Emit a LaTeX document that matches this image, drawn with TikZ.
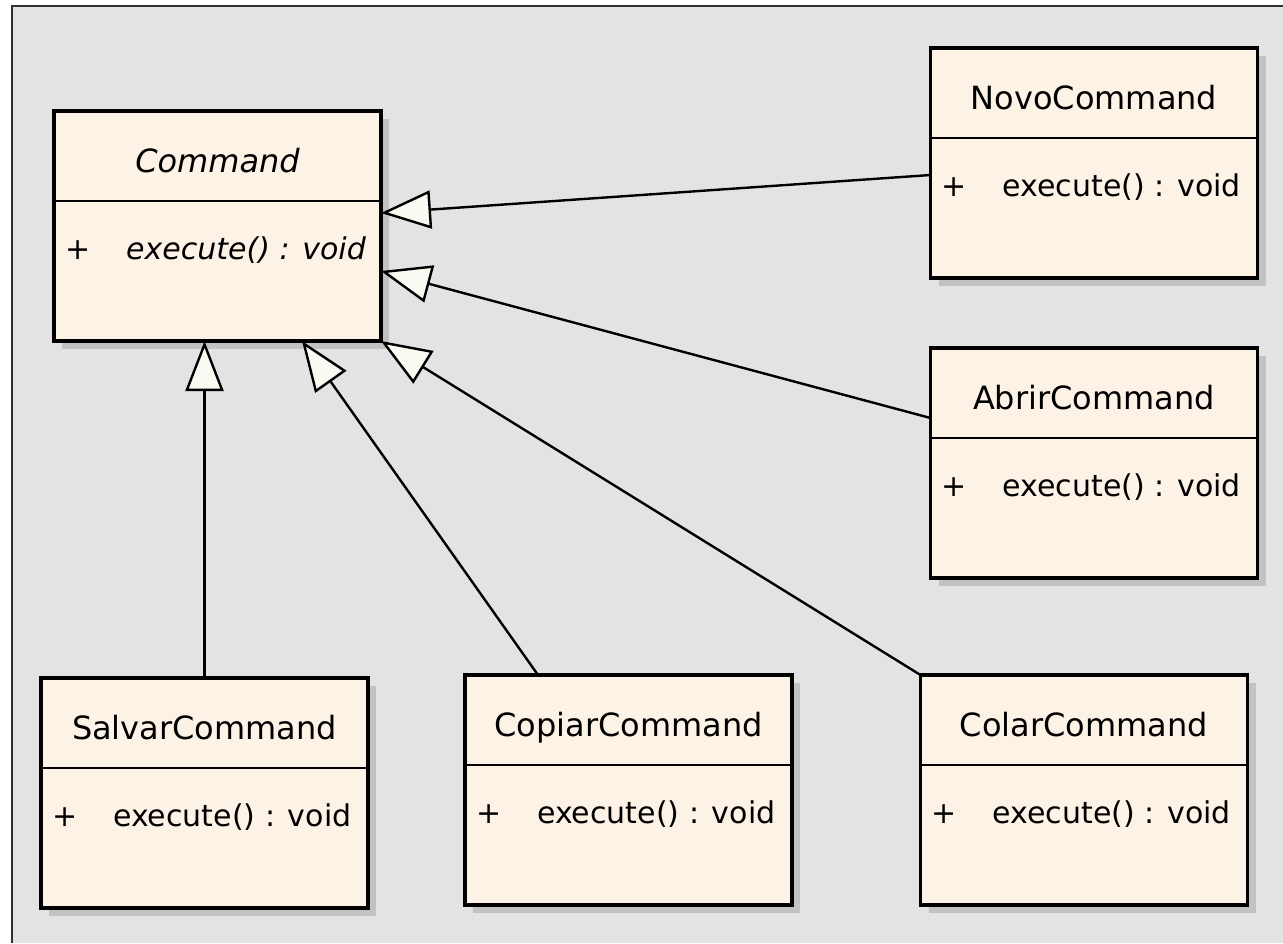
\documentclass[tikz,border=0pt]{standalone}
\usepackage{fontspec}
\setmainfont{DejaVu Sans}
\usetikzlibrary{arrows.meta,calc,shadows}
\definecolor{panel}{HTML}{E3E3E3}
\definecolor{classfill}{HTML}{FCF3E6}
\definecolor{tipfill}{HTML}{FAFAF2}
\definecolor{framecol}{HTML}{303030}
\tikzset{
  umlbox/.style={draw=black, line width=3.5pt, fill=classfill,
    minimum width=327pt, minimum height=230pt, inner sep=0pt, outer sep=0pt,
    drop shadow={shadow xshift=8pt, shadow yshift=-8pt, fill=black!24, opacity=1}},
  umltitle/.style={anchor=base, inner sep=0pt, font=\fontsize{32}{38}\selectfont},
  umlmember/.style={anchor=base west, inner sep=0pt, font=\fontsize{30}{36}\selectfont},
  umlvis/.style={anchor=base, inner sep=0pt, font=\fontsize{30}{36}\selectfont},
  umldiv/.style={line width=2.5pt},
  realizes/.style={line width=2.4pt, -{Triangle[length=50pt, width=38pt, fill=tipfill]}}
}
% #1 node name, #2 centre, #3 class name, #4 extra font switch (italic for abstract)
\newcommand\umlclass[4]{%
  \node[umlbox] (#1) at (#2) {};
  \draw[umldiv] ($(#1.north west)+(0,90)$) -- ($(#1.north east)+(0,90)$);
  \node[umltitle] (#1-name) at ($(#1.north)+(0,61)$) {#4#3};
  \node[umlvis] (#1-vis) at ($(#1.north west)+(24,148)$) {+};
  \node[umlmember] (#1-op) at ($(#1.north west)+(72,148)$) {#4execute() : void};
}
\begin{document}
\begin{tikzpicture}[x=1pt, y=-1pt]
  \useasboundingbox (0,0) rectangle (1283,943);
  % canvas
  \fill[white] (0,0) rectangle (1283,943);
  \fill[panel] (12,6) rectangle (1283,943);
  \draw[framecol, line width=1.5pt] (12,943) -- (12,6) -- (1283,6);

  % classes
  \umlclass{cmd}{217.5,226}{Command}{\itshape}
  \umlclass{novo}{1094,163}{NovoCommand}{}
  \umlclass{abrir}{1094,463}{AbrirCommand}{}
  \umlclass{salvar}{204.5,793}{SalvarCommand}{}
  \umlclass{copiar}{628.5,790}{CopiarCommand}{}
  \umlclass{colar}{1084,790}{ColarCommand}{}

  % realisations of the Command interface
  \draw[realizes] (salvar.north) -- (salvar.north |- cmd.south);
  \draw[realizes] ($(copiar.north west)+(73,0)$) -- ($(cmd.south west)+(248,0)$);
  \draw[realizes] (colar.north west) -- (cmd.south east);
  \draw[realizes] ($(abrir.north west)+(0,70)$) -- ($(cmd.north east)+(0,160)$);
  \draw[realizes] ($(novo.north west)+(0,127)$) -- ($(cmd.north east)+(0,102)$);
\end{tikzpicture}
\end{document}
